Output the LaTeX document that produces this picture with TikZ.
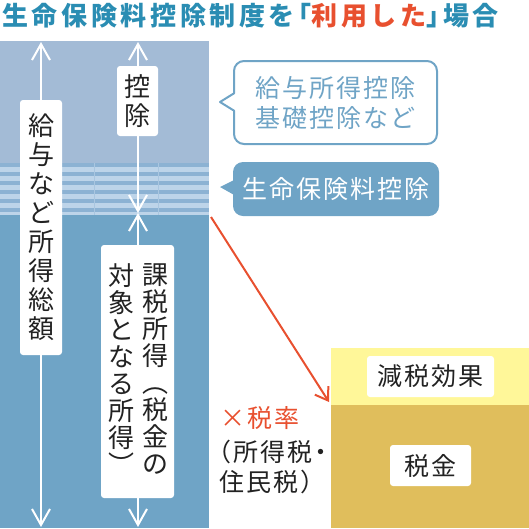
\documentclass[tikz,border=0pt]{standalone}
\usepackage{fontspec}
\setmainfont{Noto Sans CJK JP}[RawFeature=+halt]
\usetikzlibrary{arrows.meta}
\definecolor{ttlblue}{HTML}{2A8DB3}
\definecolor{ttlred}{HTML}{E8502F}
\definecolor{pale}{HTML}{A3BBD6}
\definecolor{stripdk}{HTML}{8CB2D3}
\definecolor{striplt}{HTML}{BDD4E9}
\definecolor{base}{HTML}{6FA4C6}
\definecolor{lemon}{HTML}{FFF799}
\definecolor{gold}{HTML}{E0BE5C}
\definecolor{ink}{HTML}{222222}
\tikzset{
  wbox/.style={fill=white,rounded corners=3pt,inner sep=0pt,text=ink,align=center},
  warr/.style={white,line width=2pt,>={Straight Barb[length=16pt,width=18pt]},<->},
  txt/.style={font=\fontsize{25}{30}\selectfont\addfontfeature{LetterSpace=8}},
  vtxt/.style={font=\fontsize{26}{#1}\selectfont,align=center,inner sep=0pt,text=ink},
}
\begin{document}
\begin{tikzpicture}[x=1pt,y=-1pt]
\useasboundingbox (0,0) rectangle (529,528);
\node[anchor=west,inner sep=0pt,text=ttlblue,font=\fontsize{26}{30}\selectfont\bfseries\addfontfeature{LetterSpace=14}] (ttl) at (2,16) {生命保険料控除制度を「\textcolor{ttlred}{利用した}」場合};
\fill[pale] (0,41) rectangle (209,163);
\fill[stripdk] (0,163) rectangle (209,215);
\foreach \y in {167,176,185,194,203,212} {\fill[striplt] (0,\y) rectangle (209,{min(\y+5,215)});}
\foreach \x in {94,158} {\draw[striplt!60!stripdk,line width=0.5pt] (\x,163) -- (\x,215);}
\fill[base] (0,215) rectangle (209,528);
\coordinate (a1t) at (41,42);\coordinate (a1b) at (41,527);
\coordinate (a2t) at (138,42);\coordinate (a2m) at (138,213);\coordinate (a2b) at (138,527);
\draw[warr] (a1t) -- (a1b);
\draw[warr] (a2t) -- (a2m);\draw[warr] (a2m) -- (a2b);
\node[wbox,minimum width=42pt,minimum height=255pt] (gross) at (41,227.5) {};
\node[vtxt=29] (grosst) at (gross.center) {給\\与\\な\\ど\\所\\得\\総\\額};
\node[wbox,minimum width=41pt,minimum height=70pt] (ded) at (137.5,101) {};
\node[vtxt=29] (dedt) at (ded.center) {控\\除};
\node[wbox,minimum width=73pt,minimum height=253pt] (tax) at (137.5,371.5) {};
\node[vtxt=27] (taxr) at (155,369) {課\\税\\所\\得\\︵\\税\\金\\の};
\node[vtxt=27] (taxl) at (121,369) {対\\象\\と\\な\\る\\所\\得\\︶};
\node[txt,draw=base,line width=2pt,fill=white,rounded corners=10pt,text=base,align=center,minimum width=203pt,minimum height=83pt] (c1) at (335.5,102.5) {給与所得控除\\基礎控除など};
\fill[white] (236,93) -- (220,102) -- (236,111) -- cycle;
\draw[base,line width=2pt,line join=round] (234.5,93) -- (220,102) -- (234.5,111);
\node[txt,fill=base,rounded corners=10pt,text=white,minimum width=206pt,minimum height=54pt] (c2) at (336,189) {生命保険料控除};
\fill[base] (236,179) -- (220,187) -- (236,196) -- cycle;
\fill[lemon] (331,348) rectangle (529,405);
\fill[gold] (331,405) rectangle (529,528);
\node[wbox,txt,minimum width=127pt,minimum height=41pt] (eff) at (430.5,376.5) {減税効果};
\node[wbox,txt,minimum width=81pt,minimum height=41pt] (zei) at (430.5,465.5) {税金};
\coordinate (rs) at (211,217);\coordinate (re) at (329,402);
\draw[ttlred,line width=2pt,-{Straight Barb[length=12pt,width=16pt]}] (rs) -- (re);
\node[txt,anchor=west,inner sep=0pt,text=ttlred] (rate) at (220,418) {×税率};
\node[txt,anchor=west,inner sep=0pt,text=ink] (kind1) at (219,452) {（所得税・};
\node[txt,anchor=west,inner sep=0pt,text=ink] (kind2) at (219,482) {住民税）};
\end{tikzpicture}
\end{document}
